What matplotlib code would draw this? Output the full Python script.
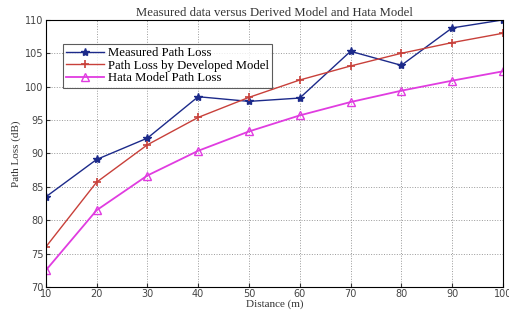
import matplotlib

matplotlib.use("Agg")
import matplotlib.pyplot as plt
import numpy as np

distance = [10, 20, 30, 40, 50, 60, 70, 80, 90, 100]
measured = [83.5, 89.1, 92.3, 98.5, 97.8, 98.3, 105.3, 103.2, 108.8, 110.0]
developed = [76.0, 85.7, 91.3, 95.4, 98.4, 101.0, 103.1, 105.0, 106.6, 108.0]
hata = [72.5, 81.5, 86.7, 90.4, 93.3, 95.7, 97.7, 99.4, 100.9, 102.3]

serif = ["Liberation Serif", "DejaVu Serif"]

fig = plt.figure(figsize=(5.09, 3.11), dpi=100)
ax = fig.add_axes([0.090, 0.077, 0.898, 0.859])

ax.plot(distance, measured, color="#1c2a8a", marker="*", markersize=6, linewidth=1.0,
        label="Measured Path Loss")
ax.plot(distance, developed, color="#c8403a", marker="+", markersize=6, linewidth=1.0,
        markeredgewidth=1.2, label="Path Loss by Developed Model")
ax.plot(distance, hata, color="#e03ce0", marker="^", markersize=6, linewidth=1.3,
        markerfacecolor="none", markeredgewidth=1.0, label="Hata Model Path Loss")

ax.set_xlim(10, 100)
ax.set_ylim(70, 110)
ax.set_xticks(np.arange(10, 101, 10))
ax.set_yticks(np.arange(70, 111, 5))
ax.tick_params(labelsize=7, labelcolor="#444444", colors="#333333", direction="in", length=3, pad=1.5)
ax.grid(True, linestyle=":", color="#999999", linewidth=0.7)

ax.set_title("Measured data versus Derived Model and Hata Model", family=serif,
             fontsize=9.2, color="#333333", pad=3)
ax.set_xlabel("Distance (m)", family=serif, fontsize=8, color="#333333", labelpad=0)
ax.set_ylabel("Path Loss (dB)", family=serif, fontsize=8, color="#333333", labelpad=3)

leg = ax.legend(loc="upper left", bbox_to_anchor=(0.037, 0.91), prop={"family": serif, "size": 9.2},
                frameon=True, fancybox=False, edgecolor="#333333", borderpad=0.25,
                labelspacing=0.05, handlelength=3.0, handletextpad=0.3, borderaxespad=0)
leg.get_frame().set_linewidth(0.8)

fig.savefig("out.png", dpi=100)
plt.close(fig)
